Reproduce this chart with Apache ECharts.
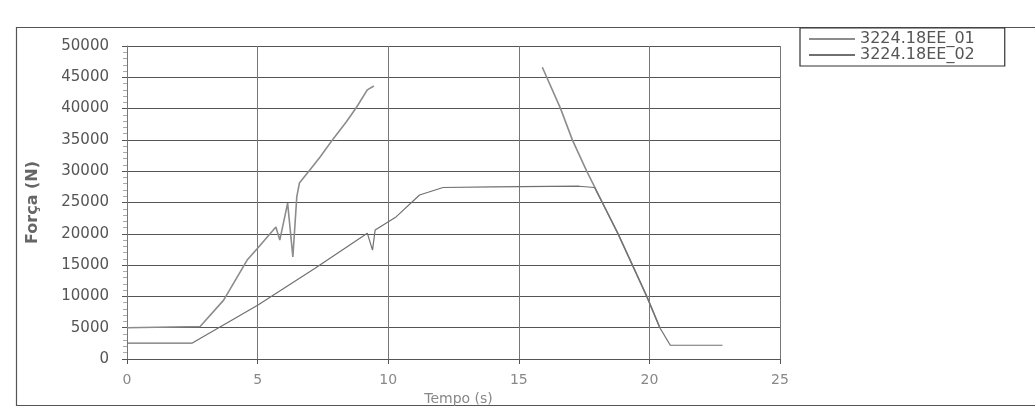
<!DOCTYPE html>
<html><head><meta charset="utf-8">
<script src="https://cdn.jsdelivr.net/npm/echarts@6/dist/echarts.min.js"></script>
<style>html,body{margin:0;padding:0;background:#fff}#c{width:1035px;height:411px}</style>
</head><body><div id="c"></div>
<script>
const seriesNames = ['3224.18EE_01', '3224.18EE_02'];
const xTicks = [0, 5, 10, 15, 20, 25];
const yTicks = [0, 5000, 10000, 15000, 20000, 25000, 30000, 35000, 40000, 45000, 50000];
const s01 = [
  [0, 5000], [2.8, 5200], [3.7, 9400], [4.6, 15800], [5.0, 17700], [5.7, 21100], [5.85, 19000],
  [6.15, 24900], [6.35, 16300], [6.5, 25900], [6.6, 28100], [7.0, 30200], [7.4, 32300],
  [7.9, 35200], [8.4, 37900], [8.8, 40300], [9.2, 43000], [9.45, 43600],
  null,
  [15.9, 46600], [16.6, 40000], [17.05, 35000], [17.6, 30000], [18.2, 25000], [18.8, 20000],
  [19.35, 15000], [19.9, 10000], [20.4, 5000]
];
const s02 = [
  [0, 2550], [2.5, 2550], [5.0, 8600], [7.2, 14500], [9.2, 20100], [9.4, 17400], [9.5, 20600],
  [10.3, 22700], [11.2, 26200], [12.1, 27400], [14.0, 27500], [17.3, 27600], [17.9, 27400],
  [18.8, 20000], [19.35, 15000], [19.9, 10000], [20.4, 5000], [20.8, 2200], [22.8, 2200]
];

const chart = echarts.init(document.getElementById('c'), null, {renderer: 'canvas'});
const font = 'DejaVu Sans, Verdana, sans-serif';
chart.setOption({
  backgroundColor: '#fff',
  animation: false,
  graphic: [{
    type: 'rect', left: 14, top: 25, silent: true,
    shape: {width: 1040, height: 378},
    style: {fill: 'none', stroke: '#555', lineWidth: 1.2}
  }],
  legend: {
    data: seriesNames, orient: 'vertical', left: 800, top: 28,
    borderColor: '#333', borderWidth: 1.2, padding: [3, 30, 3, 8], itemGap: 0,
    itemWidth: 46, itemHeight: 2,
    textStyle: {fontFamily: font, fontSize: 16, color: '#555'}
  },
  grid: {left: 127, right: 255, top: 46, bottom: 52, containLabel: false},
  xAxis: {
    type: 'value', min: 0, max: 25, interval: 5,
    name: 'Tempo (s)', nameLocation: 'middle', nameGap: 32,
    nameTextStyle: {fontFamily: font, fontSize: 14, color: '#888', padding: [0, 0, 0, 10]},
    axisLine: {show: true, onZero: false, lineStyle: {color: '#555', width: 1}},
    axisTick: {show: true, inside: false, length: 5, lineStyle: {color: '#555'}},
    axisLabel: {fontFamily: font, fontSize: 14, color: '#888', margin: 14,
      formatter: v => xTicks.includes(v) ? String(v) : ''},
    splitLine: {show: true, lineStyle: {color: '#777', width: 1}}
  },
  yAxis: {
    type: 'value', min: 0, max: 50000, interval: 5000,
    name: 'Força (N)', nameLocation: 'middle', nameGap: 86, nameRotate: 90,
    nameTextStyle: {fontFamily: font, fontSize: 16, fontWeight: 'bold', color: '#666'},
    axisLine: {show: true, lineStyle: {color: '#777', width: 1}},
    axisTick: {show: true, length: 5, lineStyle: {color: '#555'}},
    minorTick: {show: true, splitNumber: 5, length: 4, lineStyle: {color: '#aaa'}},
    axisLabel: {fontFamily: font, fontSize: 15, color: '#555', margin: 18,
      formatter: v => yTicks.includes(v) ? String(v) : ''},
    splitLine: {show: true, lineStyle: {color: '#555', width: 1.2}}
  },
  series: [
    {name: seriesNames[0], type: 'line', data: s01, symbol: 'none', connectNulls: false,
     lineStyle: {color: '#8c8c8c', width: 1.6}, itemStyle: {color: '#8c8c8c'}, z: 3},
    {name: seriesNames[1], type: 'line', data: s02, symbol: 'none',
     lineStyle: {color: '#707070', width: 1.2}, itemStyle: {color: '#707070'}, z: 4}
  ]
});
</script>
</body></html>
